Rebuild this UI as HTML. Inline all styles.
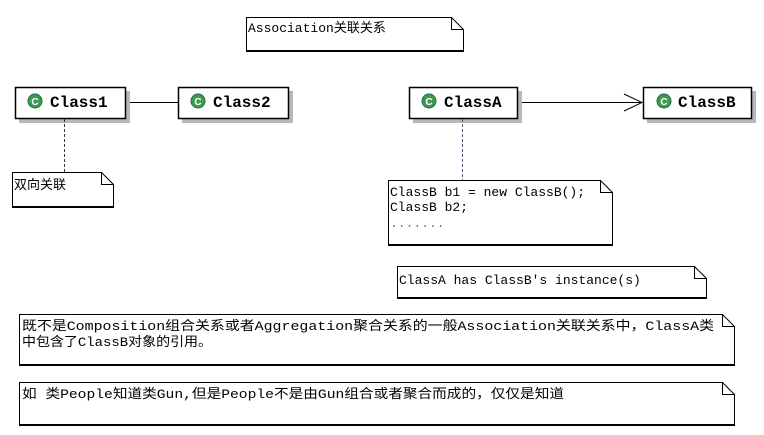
<!DOCTYPE html>
<html><head><meta charset="utf-8"><style>
html,body{margin:0;padding:0;background:#fff;width:764px;height:435px;overflow:hidden}
svg text{font-family:"Liberation Mono","Noto Sans CJK SC",monospace;font-size:13px;fill:#000}
.cn{font-weight:bold;font-size:16px}
</style></head><body>
<svg width="764" height="435" viewBox="0 0 764 435" xmlns="http://www.w3.org/2000/svg">
<defs>
<g id="icon"><circle r="7" fill="#3f9a55"/><circle r="7" fill="none" stroke="#2a6b3a" stroke-width="1"/><text x="0" y="4" text-anchor="middle" style="font-size:10px;font-weight:bold;fill:#fff;font-family:'Liberation Sans',sans-serif">C</text></g>
</defs>
<g fill="#fff" stroke="#000" stroke-width="1">
<polygon points="246.5,17.5 451.5,17.5 463.5,29.5 463.5,50.5 246.5,50.5"/>
<polyline points="451.5,17.5 451.5,29.5 463.5,29.5" fill="none"/>
<polygon points="12.5,172.5 101.5,172.5 113.5,184.5 113.5,206.5 12.5,206.5"/>
<polyline points="101.5,172.5 101.5,184.5 113.5,184.5" fill="none"/>
<polygon points="388.5,180.5 600.5,180.5 612.5,192.5 612.5,244.5 388.5,244.5"/>
<polyline points="600.5,180.5 600.5,192.5 612.5,192.5" fill="none"/>
<polygon points="397.5,266.5 694.5,266.5 706.5,278.5 706.5,297.5 397.5,297.5"/>
<polyline points="694.5,266.5 694.5,278.5 706.5,278.5" fill="none"/>
<polygon points="19.5,314.5 722.5,314.5 734.5,326.5 734.5,364.5 19.5,364.5"/>
<polyline points="722.5,314.5 722.5,326.5 734.5,326.5" fill="none"/>
<polygon points="19.5,382.5 722.5,382.5 734.5,394.5 734.5,424.5 19.5,424.5"/>
<polyline points="722.5,382.5 722.5,394.5 734.5,394.5" fill="none"/>
</g>
<g stroke="#000" stroke-width="1">
<line x1="246" y1="51.5" x2="464" y2="51.5"/>
<line x1="12" y1="207.5" x2="114" y2="207.5"/>
<line x1="388" y1="245.5" x2="613" y2="245.5"/>
<line x1="397" y1="298.5" x2="707" y2="298.5"/>
<line x1="19" y1="365.5" x2="735" y2="365.5"/>
<line x1="19" y1="425.5" x2="735" y2="425.5"/>
</g>
<line x1="126" y1="102.5" x2="178" y2="102.5" stroke="#000"/>
<line x1="518" y1="102.5" x2="642" y2="102.5" stroke="#000"/>
<polyline points="624,94 642,102.5 624,111" fill="none" stroke="#000"/>
<g>
<rect x="19" y="91" width="111" height="32" fill="#b8b8b8"/>
<rect x="15.5" y="87.5" width="110" height="31" fill="#fff" stroke="#000" stroke-width="1.5"/>
<use href="#icon" x="35" y="101"/>
<text x="50" y="107" class="cn">Class1</text>

<rect x="182" y="91" width="111" height="32" fill="#b8b8b8"/>
<rect x="178.5" y="87.5" width="110" height="31" fill="#fff" stroke="#000" stroke-width="1.5"/>
<use href="#icon" x="198" y="101"/>
<text x="213" y="107" class="cn">Class2</text>

<rect x="413" y="91" width="109" height="32" fill="#b8b8b8"/>
<rect x="409.5" y="87.5" width="108" height="31" fill="#fff" stroke="#000" stroke-width="1.5"/>
<use href="#icon" x="429" y="101"/>
<text x="444" y="107" class="cn">ClassA</text>

<rect x="647" y="91" width="109" height="32" fill="#b8b8b8"/>
<rect x="643.5" y="87.5" width="108" height="31" fill="#fff" stroke="#000" stroke-width="1.5"/>
<use href="#icon" x="664" y="101"/>
<text x="678" y="107" class="cn">ClassB</text>
</g>
<line x1="64.5" y1="119" x2="64.5" y2="172" stroke="#334" stroke-dasharray="3,2"/>
<line x1="462.5" y1="119" x2="462.5" y2="180" stroke="#557" stroke-dasharray="3,2"/>
<text x="248" y="32">Association关联关系</text>
<text x="14" y="189">双向关联</text>
<text x="390" y="196">ClassB b1 = new ClassB();</text>
<text x="390" y="211">ClassB b2;</text>
<text x="390" y="227" style="fill:#777">.......</text>
<text x="399" y="284">ClassA has ClassB's instance(s)</text>
<text x="22" y="330" textLength="692" lengthAdjust="spacingAndGlyphs">既不是Composition组合关系或者Aggregation聚合关系的一般Association关联关系中，ClassA类</text>
<text x="22" y="346" textLength="190" lengthAdjust="spacingAndGlyphs">中包含了ClassB对象的引用。</text>
<text x="22" y="398" textLength="542" lengthAdjust="spacingAndGlyphs">如 类People知道类Gun,但是People不是由Gun组合或者聚合而成的，仅仅是知道</text>
</svg>
</body></html>
